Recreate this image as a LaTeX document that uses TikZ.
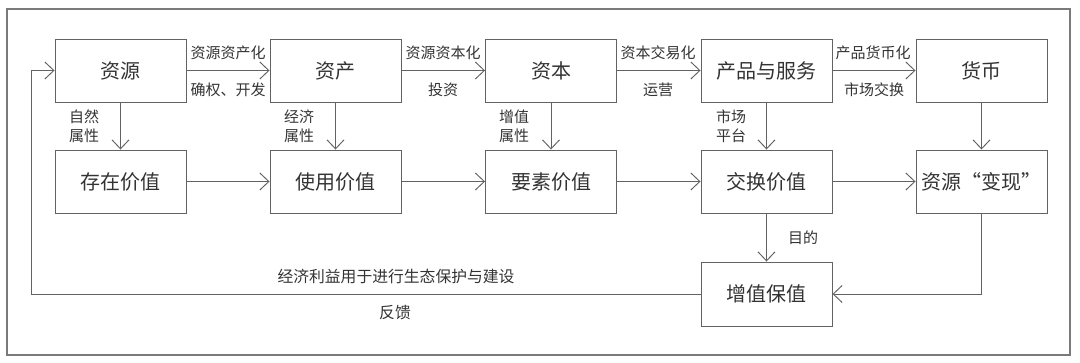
\documentclass[tikz,border=0pt]{standalone}
\usepackage{fontspec}
\setmainfont{Noto Sans CJK SC}
\usetikzlibrary{arrows.meta}
\definecolor{lc}{HTML}{626262}
\definecolor{tc}{HTML}{333333}
\definecolor{fc}{HTML}{7A7A7A}
\begin{document}
\begin{tikzpicture}[x=1pt,y=-1pt,
  box/.style={draw=lc, line width=0.95pt, minimum width=131pt, minimum height=63pt, inner sep=0pt, font=\fontsize{20}{23}\selectfont, text=tc},
  arr/.style={draw=lc, line width=0.95pt, -{Straight Barb[length=9pt,width=17pt,line width=0.95pt]}},
  lbl/.style={font=\fontsize{15}{19}\selectfont, text=tc, inner sep=0pt, align=center},
  blbl/.style={font=\fontsize{15.8}{19}\selectfont, text=tc, inner sep=0pt}]
\useasboundingbox (0,0) rectangle (1080,363);
\draw[fc, line width=1.1pt] (7,9) rectangle (1070,355);
% row 1
\node[box] (r1) at (120.5,70.5) {资源};
\node[box] (r2) at (335.5,70.5) {资产};
\node[box] (r3) at (551,70.5) {资本};
\node[box] (r4) at (766.5,70.5) {产品与服务};
\node[box] (r5) at (981.5,70.5) {货币};
% row 2
\node[box] (v1) at (120.5,181.5) {存在价值};
\node[box] (v2) at (335.5,181.5) {使用价值};
\node[box] (v3) at (551,181.5) {要素价值};
\node[box] (v4) at (766.5,181.5) {交换价值};
\node[box] (v5) at (981.5,181.5) {资源“变现”};
% row 3
\node[box, minimum height=64pt] (zz) at (766.5,294) {增值保值};
% row 1 arrows
\draw[arr] (r1) -- (r2);
\draw[arr] (r2) -- (r3);
\draw[arr] (r3) -- (r4);
\draw[arr] (r4) -- (r5);
\node[lbl] (l1a) at (228,53) {资源资产化};
\node[lbl] (l1b) at (228,90) {确权、开发};
\node[lbl] (l2a) at (443,53) {资源资本化};
\node[lbl] (l2b) at (443,90) {投资};
\node[lbl] (l3a) at (658,53) {资本交易化};
\node[lbl] (l3b) at (658,90) {运营};
\node[lbl] (l4a) at (873,53) {产品货币化};
\node[lbl] (l4b) at (874,90) {市场交换};
% vertical arrows
\draw[arr] (r1) -- (v1);
\draw[arr] (r2) -- (v2);
\draw[arr] (r3) -- (v3);
\draw[arr] (r4) -- (v4);
\draw[arr] (r5) -- (v5);
\node[lbl] (d1) at (84,126.5) {自然\\属性};
\node[lbl] (d2) at (299,126.5) {经济\\属性};
\node[lbl] (d3) at (514,126.5) {增值\\属性};
\node[lbl] (d4) at (731,126.5) {市场\\平台};
% row 2 arrows
\draw[arr] (v1) -- (v2);
\draw[arr] (v2) -- (v3);
\draw[arr] (v3) -- (v4);
\draw[arr] (v4) -- (v5);
% to zz
\draw[arr] (v4) -- (zz);
\node[lbl] (md) at (803,238) {目的};
\draw[arr] (v5.south) |- (zz.east);
% feedback
\coordinate (fb1) at (31,294);
\coordinate (fb2) at (31,70.5);
\draw[arr] (zz.west) -- (fb1) -- (fb2) -- (r1.west);
\node[blbl] (fbt) at (396,277) {经济利益用于进行生态保护与建设};
\node[blbl] (fbl) at (395,313) {反馈};
\end{tikzpicture}
\end{document}
